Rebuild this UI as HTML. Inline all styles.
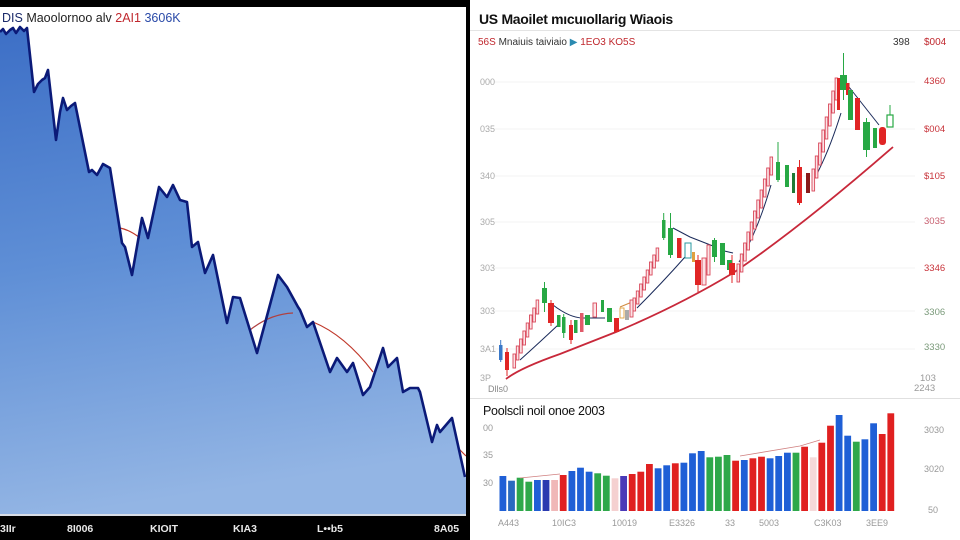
<!DOCTYPE html>
<html><head><meta charset="utf-8">
<style>
html,body{margin:0;padding:0;background:#fff;}
body{width:960px;height:540px;overflow:hidden;position:relative;font-family:"Liberation Sans",sans-serif;}
svg{position:absolute;left:0;top:0;}
</style></head>
<body>
<svg width="960" height="540" viewBox="0 0 960 540" xmlns="http://www.w3.org/2000/svg" font-family="Liberation Sans, sans-serif">
<defs>
<linearGradient id="bg" x1="0" y1="0" x2="0.15" y2="1">
<stop offset="0" stop-color="#3d6fc6"/>
<stop offset="0.5" stop-color="#5f8fd6"/>
<stop offset="1" stop-color="#93b5e4"/>
</linearGradient>
</defs>
<rect x="0" y="0" width="960" height="540" fill="#fff"/>
<!-- LEFT PANEL -->
<rect x="0" y="0" width="470" height="7" fill="#000"/>
<rect x="0" y="516" width="470" height="24" fill="#000"/>
<rect x="0" y="514" width="466" height="2" fill="#d8dde6"/>
<polygon fill="url(#bg)" points="0,32 3,29 6,34 10,30 13,28 16,33 20,27 24,31 27,28 34,92 38,84 42,80 45,78 48,70 56,140 60,112 63,98 67,110 71,106 75,103 89,172 92,170 97,175 103,164 110,168 122,243 125,247 132,275 142,218 148,238 159,187 167,197 173,185 180,200 187,202 192,247 198,242 205,273 213,255 227,323 233,297 240,298 257,353 278,275 287,287 298,307 300,310 307,327 313,322 330,372 337,358 347,372 353,363 363,395 370,387 383,348 388,367 397,358 403,392 410,388 418,388 420,392 432,442 437,425 440,432 452,418 466,478 466,514 0,514"/>
<path d="M120,228 Q130,230 140,238" stroke="#c0392b" stroke-width="1.2" fill="none"/>
<path d="M250,330 Q270,314 293,313" stroke="#b04040" stroke-width="1.2" fill="none"/>
<path d="M313,322 Q345,335 373,372" stroke="#c0392b" stroke-width="1.2" fill="none"/>
<path d="M458,448 L466,456" stroke="#c0392b" stroke-width="1.2" fill="none"/>
<polyline fill="none" stroke="#0b1a78" stroke-width="2.6" stroke-linejoin="round" points="0,32 3,29 6,34 10,30 13,28 16,33 20,27 24,31 27,28 34,92 38,84 42,80 45,78 48,70 56,140 60,112 63,98 67,110 71,106 75,103 89,172 92,170 97,175 103,164 110,168 122,243 125,247 132,275 142,218 148,238 159,187 167,197 173,185 180,200 187,202 192,247 198,242 205,273 213,255 227,323 233,297 240,298 257,353 278,275 287,287 298,307 300,310 307,327 313,322 330,372 337,358 347,372 353,363 363,395 370,387 383,348 388,367 397,358 403,392 410,388 418,388 420,392 432,442 437,425 440,432 452,418 465,477"/>
<text x="2" y="22" font-size="12.5" fill="#1a2a6a">DIS <tspan fill="#222">Maoolornoo  alv</tspan> <tspan fill="#c0282e">2AI1</tspan> <tspan fill="#2a4aa8">3606K</tspan></text>
<g font-size="10.5" font-weight="bold" fill="#e8e8e8">
<text x="0" y="532">3IIr</text>
<text x="67" y="532">8I006</text>
<text x="150" y="532">KIOIT</text>
<text x="233" y="532">KIA3</text>
<text x="317" y="532">L••b5</text>
<text x="434" y="532">8A05</text>
</g>
<rect x="466" y="0" width="4" height="540" fill="#000"/>

<!-- RIGHT PANEL -->
<text x="479" y="24" font-size="14" fill="#111" font-weight="bold" letter-spacing="-0.3">US Maoilet mıcuıollarig Wiaois</text>
<line x1="470" y1="30.5" x2="960" y2="30.5" stroke="#e4e4e4" stroke-width="1"/>
<text x="478" y="45" font-size="10" fill="#c0282e">56S <tspan fill="#333">Mnaiuis taiviaio</tspan> <tspan fill="#2a8ab0">▶</tspan> <tspan fill="#c0282e">1EO3 KO5S</tspan></text>
<text x="893" y="45" font-size="10" fill="#333">398</text>
<text x="924" y="45" font-size="10" fill="#c0282e">$004</text>
<!-- gridlines -->
<g stroke="#f3f3f3" stroke-width="1">
<line x1="495" y1="82" x2="915" y2="82"/><line x1="495" y1="129" x2="915" y2="129"/>
<line x1="495" y1="176" x2="915" y2="176"/><line x1="495" y1="222" x2="915" y2="222"/>
<line x1="495" y1="268" x2="915" y2="268"/><line x1="495" y1="311" x2="915" y2="311"/>
<line x1="495" y1="349" x2="915" y2="349"/>
</g>
<g font-size="9" fill="#aaa">
<text x="480" y="85">000</text><text x="480" y="132">035</text><text x="480" y="179">340</text>
<text x="480" y="225">305</text><text x="480" y="271">303</text><text x="480" y="314">303</text>
<text x="480" y="352">3A1</text><text x="480" y="381">3P</text>
<text x="488" y="392" fill="#888">Dlls0</text>
</g>
<g font-size="9.5">
<text x="924" y="84" fill="#c8333a">4360</text>
<text x="924" y="132" fill="#c8333a">$004</text>
<text x="924" y="179" fill="#c8333a">$105</text>
<text x="924" y="224" fill="#c86070">3035</text>
<text x="924" y="271" fill="#c8333a">3346</text>
<text x="924" y="315" fill="#7a9a7a">3306</text>
<text x="924" y="350" fill="#7a9a7a">3330</text>
<text x="920" y="381" fill="#999">103</text>
<text x="914" y="391" fill="#999">2243</text>
</g>

<!-- red trend -->
<path d="M506,379 Q520,368 560,354 L616,332 Q680,305 733,273 Q800,228 893,147" stroke="#c8283a" stroke-width="1.8" fill="none"/>
<!-- navy MAs -->
<g stroke="#1a2a5a" stroke-width="1" fill="none">
<path d="M520,360 Q540,342 558,325"/>
<path d="M553,305 Q570,318 583,318 L605,318"/>
<path d="M637,308 Q662,283 685,257"/>
<path d="M673,228 L690,237 L713,246"/>
<path d="M720,250 L733,253"/>
<path d="M739,262 Q757,233 771,185"/>
<path d="M812,183 Q828,155 841,113"/>
<path d="M849,87 L879,125"/>
</g>
<path d="M620,307 L632,302" stroke="#d08a40" stroke-width="1" fill="none"/>

<!-- hollow rising candles -->
<g fill="#fbe3e6" stroke="#d9475a" stroke-width="0.9">
<rect x="513" y="354" width="2.6" height="14"/><rect x="516.3" y="346" width="2.6" height="14"/>
<rect x="519.6" y="339" width="2.6" height="14"/><rect x="522.9" y="331" width="2.6" height="14"/>
<rect x="526.2" y="323" width="2.6" height="14"/><rect x="529.5" y="315" width="2.6" height="14"/>
<rect x="532.8" y="308" width="2.6" height="14"/><rect x="536.1" y="300" width="2.6" height="14"/>

<rect x="633" y="298" width="2.6" height="13"/><rect x="636.3" y="291" width="2.6" height="13"/>
<rect x="639.6" y="284" width="2.6" height="13"/><rect x="642.9" y="277" width="2.6" height="13"/>
<rect x="646.2" y="270" width="2.6" height="13"/><rect x="649.5" y="262" width="2.6" height="13"/>
<rect x="652.8" y="255" width="2.6" height="13"/><rect x="656.1" y="248" width="2.6" height="13"/>

<rect x="737" y="264" width="2.6" height="18"/><rect x="740.3" y="254" width="2.6" height="18"/>
<rect x="743.6" y="243" width="2.6" height="18"/><rect x="746.9" y="232" width="2.6" height="18"/>
<rect x="750.2" y="222" width="2.6" height="18"/><rect x="753.5" y="211" width="2.6" height="18"/>
<rect x="756.8" y="200" width="2.6" height="18"/><rect x="760.1" y="190" width="2.6" height="18"/>
<rect x="763.4" y="179" width="2.6" height="18"/><rect x="766.7" y="168" width="2.6" height="18"/>
<rect x="770" y="157" width="2.6" height="18"/>

<rect x="812" y="169" width="2.6" height="22"/><rect x="815.3" y="156" width="2.6" height="22"/>
<rect x="818.6" y="143" width="2.6" height="22"/><rect x="821.9" y="130" width="2.6" height="22"/>
<rect x="825.2" y="117" width="2.6" height="22"/><rect x="828.5" y="104" width="2.6" height="22"/>
<rect x="831.8" y="91" width="2.6" height="22"/><rect x="835.1" y="78" width="2.6" height="22"/>

<rect x="593" y="303" width="3.5" height="14"/><rect x="630" y="300" width="3" height="17"/>
<rect x="702" y="258" width="4" height="27"/><rect x="707" y="245" width="3" height="30"/>
</g>

<!-- wicks -->
<g stroke-width="1">
<line x1="500.7" y1="340" x2="500.7" y2="362" stroke="#3a78c8"/>
<line x1="507" y1="348" x2="507" y2="376" stroke="#e02525"/>
<line x1="544.5" y1="282" x2="544.5" y2="312" stroke="#27a844"/>
<line x1="551" y1="300" x2="551" y2="326" stroke="#e02525"/>
<line x1="563.7" y1="314" x2="563.7" y2="338" stroke="#27a844"/>
<line x1="571" y1="320" x2="571" y2="344" stroke="#e02525"/>
<line x1="663.7" y1="213" x2="663.7" y2="240" stroke="#27a844"/>
<line x1="670.5" y1="213" x2="670.5" y2="258" stroke="#27a844"/>
<line x1="698" y1="255" x2="698" y2="292" stroke="#e02525"/>
<line x1="714.5" y1="238" x2="714.5" y2="262" stroke="#27a844"/>
<line x1="732" y1="255" x2="732" y2="283" stroke="#e02525"/>
<line x1="778" y1="142" x2="778" y2="182" stroke="#27a844"/>
<line x1="799.5" y1="160" x2="799.5" y2="205" stroke="#e02525"/>
<line x1="843.5" y1="53" x2="843.5" y2="100" stroke="#27a844"/>
<line x1="866.5" y1="118" x2="866.5" y2="157" stroke="#27a844"/>
<line x1="890" y1="105" x2="890" y2="127" stroke="#27a844"/>
</g>
<!-- solid candles -->
<g>
<rect x="499" y="345" width="3.5" height="15" fill="#3a78c8"/>
<rect x="505" y="352" width="4" height="18" fill="#e02525"/>
<rect x="542" y="288" width="5" height="15" fill="#27a844"/>
<rect x="548" y="303" width="6" height="20" fill="#e02525"/>
<rect x="557" y="315" width="3.5" height="12" fill="#27a844"/>
<rect x="562" y="317" width="3.5" height="16" fill="#27a844"/>
<rect x="569" y="325" width="4" height="15" fill="#e02525"/>
<rect x="574" y="320" width="3.5" height="13" fill="#27a844"/>
<rect x="580" y="313" width="3.5" height="19" fill="#e05a6a"/>
<rect x="585" y="315" width="5" height="10" fill="#27a844"/>
<rect x="601" y="300" width="3" height="12" fill="#27a844"/>
<rect x="607" y="308" width="5" height="14" fill="#27a844"/>
<rect x="614" y="318" width="5" height="14" fill="#e02525"/>
<rect x="620" y="308" width="4" height="10" fill="#fff" stroke="#e0a040" stroke-width="0.9"/>
<rect x="625" y="310" width="4" height="10" fill="#aaa"/>
<rect x="662" y="220" width="3.5" height="18" fill="#27a844"/>
<rect x="668" y="228" width="5" height="27" fill="#27a844"/>
<rect x="677" y="238" width="4.5" height="20" fill="#e02525"/>
<rect x="685" y="243" width="6" height="15" fill="#fff" stroke="#2a9aa0" stroke-width="1"/>
<rect x="692" y="252" width="3" height="10" fill="#e0a040"/>
<rect x="695" y="260" width="6" height="25" fill="#e02525"/>
<rect x="712" y="240" width="5" height="17" fill="#27a844"/>
<rect x="720" y="243" width="5" height="22" fill="#27a844"/>
<rect x="727" y="260" width="5" height="10" fill="#27a844"/>
<rect x="729" y="263" width="6" height="12" fill="#e02525"/>
<rect x="776" y="162" width="4" height="18" fill="#27a844"/>
<rect x="785" y="165" width="4" height="22" fill="#27a844"/>
<rect x="792" y="173" width="3" height="20" fill="#1f7a35"/>
<rect x="797" y="167" width="5" height="36" fill="#e02525"/>
<rect x="806" y="173" width="4" height="20" fill="#8a1a1a"/>
<rect x="837" y="78" width="3" height="32" fill="#e02525"/>
<rect x="840" y="75" width="7" height="15" fill="#27a844"/>
<rect x="846" y="83" width="3.5" height="12" fill="#e02525"/>
<rect x="848" y="90" width="5" height="30" fill="#27a844"/>
<rect x="855" y="98" width="5" height="32" fill="#e02525"/>
<rect x="863" y="122" width="7" height="28" fill="#27a844"/>
<rect x="873" y="128" width="4" height="20" fill="#27a844"/>
<rect x="879" y="127" width="7" height="18" rx="3" fill="#e02525"/>
<rect x="887" y="115" width="6" height="12" fill="#fff" stroke="#27a844" stroke-width="1.2"/>
</g>

<line x1="470" y1="398.5" x2="960" y2="398.5" stroke="#e0e0e0" stroke-width="1"/>
<!-- BAR CHART -->
<text x="483" y="415" font-size="12.5" fill="#111" letter-spacing="-0.3">Poolscli noil onoe 2003</text>
<g font-size="9" fill="#999">
<text x="483" y="431">00</text><text x="483" y="458">35</text><text x="483" y="486">30</text>
<text x="924" y="433">3030</text><text x="924" y="472">3020</text><text x="928" y="513">50</text>
</g>
<g>
<rect x="499.5" y="476" width="6.8" height="35" fill="#1f5fd6"/>
<rect x="508.1" y="480.7" width="6.8" height="30.3" fill="#2a6ac0"/>
<rect x="516.7" y="477.7" width="6.8" height="33.3" fill="#2ea84a"/>
<rect x="525.4" y="481.7" width="6.8" height="29.3" fill="#2ea84a"/>
<rect x="534" y="480" width="6.8" height="31" fill="#1f5fd6"/>
<rect x="542.6" y="480" width="6.8" height="31" fill="#2a3ab0"/>
<rect x="551.2" y="480" width="6.8" height="31" fill="#f0b8b8"/>
<rect x="559.8" y="475" width="6.8" height="36" fill="#e02020"/>
<rect x="568.5" y="471" width="6.8" height="40" fill="#1f5fd6"/>
<rect x="577.1" y="467.7" width="6.8" height="43.3" fill="#1f5fd6"/>
<rect x="585.7" y="471.7" width="6.8" height="39.3" fill="#1f5fd6"/>
<rect x="594.3" y="473.3" width="6.8" height="37.7" fill="#2ea84a"/>
<rect x="602.9" y="475.7" width="6.8" height="35.3" fill="#2ea84a"/>
<rect x="611.6" y="478.3" width="6.8" height="32.7" fill="#f5d0d0"/>
<rect x="620.2" y="476" width="6.8" height="35" fill="#4a3ab8"/>
<rect x="628.8" y="474" width="6.8" height="37" fill="#e02020"/>
<rect x="637.4" y="471.7" width="6.8" height="39.3" fill="#e02020"/>
<rect x="646" y="464" width="6.8" height="47" fill="#e02020"/>
<rect x="654.7" y="468.3" width="6.8" height="42.7" fill="#1f5fd6"/>
<rect x="663.3" y="465.3" width="6.8" height="45.7" fill="#1f5fd6"/>
<rect x="671.9" y="463.3" width="6.8" height="47.7" fill="#e02020"/>
<rect x="680.5" y="462.7" width="6.8" height="48.3" fill="#1f5fd6"/>
<rect x="689.1" y="453.3" width="6.8" height="57.7" fill="#1f5fd6"/>
<rect x="697.8" y="451" width="6.8" height="60" fill="#1f5fd6"/>
<rect x="706.4" y="457.3" width="6.8" height="53.7" fill="#2ea84a"/>
<rect x="715" y="456.7" width="6.8" height="54.3" fill="#2ea84a"/>
<rect x="723.6" y="455" width="6.8" height="56" fill="#2ea84a"/>
<rect x="732.2" y="460.7" width="6.8" height="50.3" fill="#e02020"/>
<rect x="740.9" y="460" width="6.8" height="51" fill="#1f5fd6"/>
<rect x="749.5" y="458.3" width="6.8" height="52.7" fill="#e02020"/>
<rect x="758.1" y="456.7" width="6.8" height="54.3" fill="#e02020"/>
<rect x="766.7" y="458.3" width="6.8" height="52.7" fill="#1f5fd6"/>
<rect x="775.3" y="456" width="6.8" height="55" fill="#1f5fd6"/>
<rect x="784" y="452.7" width="6.8" height="58.3" fill="#1f5fd6"/>
<rect x="792.6" y="452.7" width="6.8" height="58.3" fill="#2ea84a"/>
<rect x="801.2" y="446.7" width="6.8" height="64.3" fill="#e02020"/>
<rect x="809.8" y="457.3" width="6.8" height="53.7" fill="#f5dada"/>
<rect x="818.4" y="442.7" width="6.8" height="68.3" fill="#e02020"/>
<rect x="827.1" y="425.7" width="6.8" height="85.3" fill="#e02020"/>
<rect x="835.7" y="415" width="6.8" height="96" fill="#1f5fd6"/>
<rect x="844.3" y="435.7" width="6.8" height="75.3" fill="#1f5fd6"/>
<rect x="852.9" y="441.7" width="6.8" height="69.3" fill="#2ea84a"/>
<rect x="861.5" y="439.3" width="6.8" height="71.7" fill="#1f5fd6"/>
<rect x="870.2" y="423.3" width="6.8" height="87.7" fill="#1f5fd6"/>
<rect x="878.8" y="434" width="6.8" height="77" fill="#e02020"/>
<rect x="887.4" y="413.3" width="6.8" height="97.7" fill="#e02020"/>
</g>
<path d="M520,478 L560,474 M740,456 L800,446 L820,440" stroke="#d08080" stroke-width="0.8" fill="none"/>
<g font-size="9" fill="#999">
<text x="498" y="526">A443</text><text x="552" y="526">10IC3</text><text x="612" y="526">10019</text>
<text x="669" y="526">E3326</text><text x="725" y="526">33</text><text x="759" y="526">5003</text>
<text x="814" y="526">C3K03</text><text x="866" y="526">3EE9</text>
</g>
</svg>
</body></html>
